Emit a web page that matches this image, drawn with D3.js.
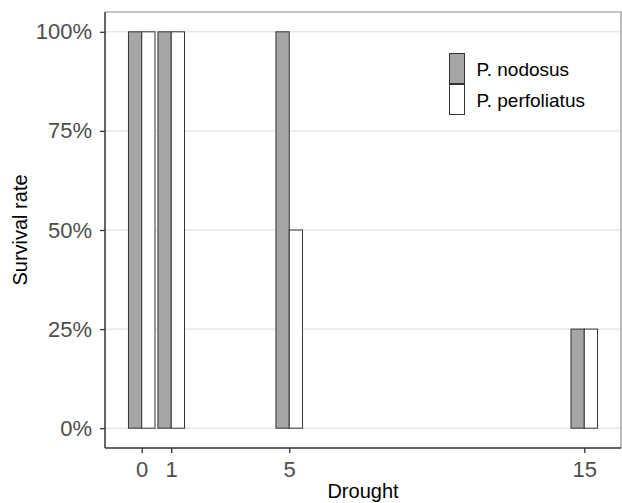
<!DOCTYPE html>
<html>
<head>
<script src="https://cdn.jsdelivr.net/npm/d3@7"></script>
<style>
  body { margin: 0; background: #fff; }
  text { font-family: "Liberation Sans", Arial, sans-serif; }
</style>
</head>
<body>
<div id="vis"></div>
<script type="text/javascript">

    const drought = [0, 1, 5, 15];
    const species = ["P. nodosus", "P. perfoliatus"];
    const nodosus = [1, 1, 1, 0.25];
    const perfoliatus = [1, 1, 0.5, 0.25];
    const yTicks = [0, 0.25, 0.5, 0.75, 1];

    const W = 622, H = 503;
    const m = {left: 105, right: 1, top: 12, bottom: 55};
    const colors = {"P. nodosus": "#a6a6a6", "P. perfoliatus": "#ffffff"};
    const barW = 0.45;

    const svg = d3.select("#vis").append("svg").attr("width", W).attr("height", H);

    const x = d3.scaleLinear().domain([-1.245, 16.245]).range([m.left, W - m.right]);
    const y = d3.scaleLinear().domain([-0.05, 1.05]).range([H - m.bottom, m.top]);

    // grid
    svg.append("g").selectAll("line").data(yTicks).join("line")
        .attr("x1", m.left).attr("x2", W - m.right)
        .attr("y1", d => y(d)).attr("y2", d => y(d))
        .style("stroke", "#dcdcdc").style("stroke-width", 1);

    // bars
    const rows = [];
    drought.forEach((d, i) => {
        rows.push({x: d, s: species[0], v: nodosus[i], off: -1});
        rows.push({x: d, s: species[1], v: perfoliatus[i], off: 0});
    });
    svg.append("g").selectAll("rect").data(rows).join("rect")
        .attr("x", d => x(d.x + d.off * barW))
        .attr("width", d => x(d.x + (d.off + 1) * barW) - x(d.x + d.off * barW))
        .attr("y", d => y(d.v))
        .attr("height", d => y(0) - y(d.v))
        .style("fill", d => colors[d.s])
        .style("stroke", "#333").style("stroke-width", 1);

    // panel border (top/right lighter)
    svg.append("path")
        .attr("d", `M${m.left},${m.top}H${W - m.right}V${H - m.bottom}`)
        .style("fill", "none").style("stroke", "#8c8c8c").style("stroke-width", 1.2);

    // axes
    const yAxis = svg.append("g").attr("transform", `translate(${m.left},0)`)
        .call(d3.axisLeft(y).tickValues(yTicks).tickFormat(d3.format(".0%")).tickSize(5).tickPadding(8));
    const xAxis = svg.append("g").attr("transform", `translate(0,${H - m.bottom})`)
        .call(d3.axisBottom(x).tickValues(drought).tickSize(5).tickPadding(8));
    [xAxis, yAxis].forEach(a => {
        a.select(".domain").style("stroke", "#333").style("stroke-width", 1.5);
        a.selectAll(".tick line").style("stroke", "#333").style("stroke-width", 1.3);
        a.selectAll(".tick text").style("fill", "#4d4d4d").style("font-size", "22px")
            .style("font-family", "'Liberation Sans', Arial, sans-serif");
    });
    yAxis.select(".domain").attr("d", `M0,${m.top}V${H - m.bottom}`);
    xAxis.select(".domain").attr("d", `M${m.left},0H${W - m.right}`);

    // axis titles
    svg.append("text").attr("x", x(7.5)).attr("y", 498).attr("text-anchor", "middle")
        .style("font-size", "20px").style("fill", "#000").text("Drought");
    svg.append("text").attr("transform", `translate(27,${(m.top + H - m.bottom) / 2}) rotate(-90)`)
        .attr("text-anchor", "middle")
        .style("font-size", "20px").style("fill", "#000").text("Survival rate");

    // legend
    const lg = svg.append("g").attr("transform", "translate(449.5,53.5)");
    species.forEach((s, i) => {
        lg.append("rect").attr("x", 0).attr("y", i * 31).attr("width", 15).attr("height", 30)
            .style("fill", colors[s]).style("stroke", "#333").style("stroke-width", 1);
        lg.append("text").attr("x", 27).attr("y", i * 31 + 22)
            .style("font-size", "19px").style("fill", "#000").text(s);
    });

</script>
</body>
</html>
